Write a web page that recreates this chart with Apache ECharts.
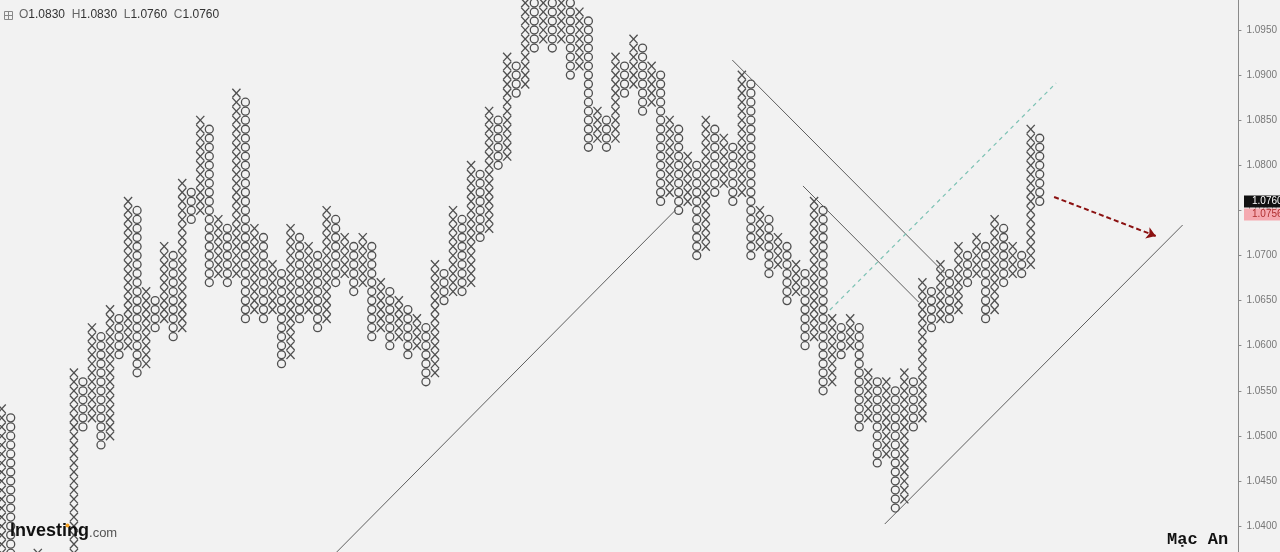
<!DOCTYPE html>
<html><head><meta charset="utf-8">
<script src="https://cdn.jsdelivr.net/npm/echarts@6/dist/echarts.min.js"></script>
<style>html,body{margin:0;padding:0;background:#f2f2f2;overflow:hidden}#c{width:1280px;height:552px;}</style>
</head><body><div id="c"></div>
<script>
// Point & Figure columns (box size 0.0010), even index = X column, odd index = O column
const colType = [];
const colHigh = [
 1.0530,1.0520,1.0350,1.0340,1.0370,1.0360,1.0360,1.0350,1.0570,1.0560,
 1.0620,1.0610,1.0640,1.0630,1.0760,1.0750,1.0660,1.0650,1.0710,1.0700,
 1.0780,1.0770,1.0850,1.0840,1.0740,1.0730,1.0880,1.0870,1.0730,1.0720,
 1.0690,1.0680,1.0730,1.0720,1.0710,1.0700,1.0750,1.0740,1.0720,1.0710,
 1.0720,1.0710,1.0670,1.0660,1.0650,1.0640,1.0630,1.0620,1.0690,1.0680,
 1.0750,1.0740,1.0800,1.0790,1.0860,1.0850,1.0920,1.0910,1.1000,1.0990,
 1.1000,1.0990,1.0990,1.0980,1.0970,1.0960,1.0860,1.0850,1.0920,1.0910,
 1.0940,1.0930,1.0910,1.0900,1.0850,1.0840,1.0810,1.0800,1.0850,1.0840,
 1.0830,1.0820,1.0900,1.0890,1.0750,1.0740,1.0720,1.0710,1.0690,1.0680,
 1.0760,1.0750,1.0630,1.0620,1.0630,1.0620,1.0570,1.0560,1.0560,1.0550,
 1.0570,1.0560,1.0670,1.0660,1.0690,1.0680,1.0710,1.0700,1.0720,1.0710,
 1.0740,1.0730,1.0710,1.0700,1.0840,1.0830
];
const colLow = [
 1.0350,1.0300,1.0310,1.0320,1.0330,1.0320,1.0330,1.0310,1.0320,1.0510,
 1.0520,1.0490,1.0500,1.0590,1.0600,1.0570,1.0580,1.0620,1.0630,1.0610,
 1.0620,1.0740,1.0750,1.0670,1.0680,1.0670,1.0680,1.0630,1.0640,1.0630,
 1.0640,1.0580,1.0590,1.0630,1.0640,1.0620,1.0630,1.0670,1.0680,1.0660,
 1.0670,1.0610,1.0620,1.0600,1.0610,1.0590,1.0600,1.0560,1.0570,1.0650,
 1.0660,1.0660,1.0670,1.0720,1.0730,1.0800,1.0810,1.0880,1.0890,1.0930,
 1.0940,1.0930,1.0940,1.0900,1.0910,1.0820,1.0830,1.0820,1.0830,1.0880,
 1.0890,1.0860,1.0870,1.0760,1.0770,1.0750,1.0760,1.0700,1.0710,1.0770,
 1.0780,1.0760,1.0770,1.0700,1.0710,1.0680,1.0690,1.0650,1.0660,1.0600,
 1.0610,1.0550,1.0560,1.0590,1.0600,1.0510,1.0520,1.0470,1.0480,1.0420,
 1.0430,1.0510,1.0520,1.0620,1.0630,1.0630,1.0640,1.0670,1.0680,1.0630,
 1.0640,1.0670,1.0680,1.0680,1.0690,1.0760
];
for (let i = 0; i < colHigh.length; i++) colType.push(i % 2 === 0 ? 'X' : 'O');

const yTickLabels = [1.0400,1.0450,1.0500,1.0550,1.0600,1.0650,1.0700,1.0750,1.0800,1.0850,1.0900,1.0950];
const yMin = 1.037129, yMax = 1.098326;
const lastClose = 1.0760, bidPrice = 1.0756;
const ohlc = {O: '1.0830', H: '1.0830', L: '1.0760', C: '1.0760'};

// drawn trend lines, in (column index, price)
const trendLines = [
  [[37.12, 1.03713], [74.65, 1.07504]],
  [[80.94, 1.09167], [104.45, 1.06806]],
  [[88.77, 1.07771], [101.58, 1.06484]],
  [[97.83, 1.04023], [130.83, 1.07338]]
];
const dashedLine = [[91.75, 1.06396], [116.81, 1.08912]];
const arrowLine = [[116.59, 1.07649], [127.85, 1.07216]];

const boxes = [];
for (let i = 0; i < colHigh.length; i++) {
  const lo = Math.round(colLow[i] * 10000), hi = Math.round(colHigh[i] * 10000);
  for (let k = lo; k <= hi; k += 10) boxes.push([i, k / 10000, colType[i] === 'X' ? 1 : 0]);
}

const chart = echarts.init(document.getElementById('c'));
const axisFont = 'Liberation Sans, Arial, sans-serif';
const glyph = '#4f4f4f';
chart.setOption({
  backgroundColor: '#f2f2f2',
  animation: false,
  grid: {left: 0, right: 37, top: 0, bottom: 0, containLabel: false},
  xAxis: {type: 'value', min: -0.1876, max: 137.01, show: false},
  yAxis: {
    type: 'value', position: 'right', min: yMin, max: yMax,
    axisLine: {show: true, onZero: false, lineStyle: {color: '#8a8a8a', width: 1}},
    axisTick: {show: true, inside: false, length: 3, customValues: yTickLabels, lineStyle: {color: '#8a8a8a'}},
    axisLabel: {margin: 8, color: '#777', fontSize: 10, fontFamily: axisFont, customValues: yTickLabels,
      showMinLabel: true, showMaxLabel: true,
      formatter: v => Number(v).toFixed(4)},
    splitLine: {show: false}
  },
  series: [
    {
      type: 'custom', clip: true,
      data: boxes,
      encode: {x: 0, y: 1},
      renderItem: function (params, api) {
        const c = api.coord([api.value(0), api.value(1)]);
        const s = api.size([1, 0.001]);
        const hw = s[0] * 0.45, hh = s[1] * 0.48;
        const st = {stroke: glyph, lineWidth: 1.3, fill: null};
        if (api.value(2) === 1) {
          return {type: 'group', children: [
            {type: 'line', shape: {x1: c[0] - hw, y1: c[1] - hh, x2: c[0] + hw, y2: c[1] + hh}, style: st},
            {type: 'line', shape: {x1: c[0] - hw, y1: c[1] + hh, x2: c[0] + hw, y2: c[1] - hh}, style: st}
          ]};
        }
        return {type: 'circle', shape: {cx: c[0], cy: c[1], r: Math.min(hw, hh) * 0.98},
          style: {stroke: glyph, lineWidth: 1.3, fill: 'none'}};
      },
      z: 2
    },
    {
      type: 'lines', coordinateSystem: 'cartesian2d', polyline: false, silent: true,
      lineStyle: {color: '#5f5f5f', width: 1, opacity: 1},
      data: trendLines.map(l => ({coords: l})), z: 3
    },
    {
      type: 'lines', coordinateSystem: 'cartesian2d', silent: true,
      lineStyle: {color: '#7cc2b4', width: 1.2, type: [4, 4], opacity: 1},
      data: [{coords: dashedLine}], z: 3
    },
    {
      type: 'lines', coordinateSystem: 'cartesian2d', silent: true,
      symbol: ['none', 'arrow'], symbolSize: 9,
      lineStyle: {color: '#8b1111', width: 2, type: [5, 3], opacity: 1},
      data: [{coords: arrowLine}], z: 3
    }
  ]
});

const yc = chart.convertToPixel({yAxisIndex: 0}, lastClose);
chart.setOption({
  graphic: [
    {type: 'rect', left: 1244, top: yc - 6, shape: {width: 36, height: 12}, style: {fill: '#111'}, z: 10},
    {type: 'text', left: 1252, top: yc - 5, style: {text: lastClose.toFixed(4), fill: '#fff', font: '10px ' + axisFont}, z: 11},
    {type: 'rect', left: 1244, top: yc + 7, shape: {width: 36, height: 12}, style: {fill: '#f5a9b0'}, z: 10},
    {type: 'text', left: 1252, top: yc + 8, style: {text: bidPrice.toFixed(4), fill: '#b03030', font: '10px ' + axisFont}, z: 11},
    // header icon
    {type: 'rect', shape: {x: 4.5, y: 11.5, width: 8, height: 8}, style: {fill: 'none', stroke: '#888', lineWidth: 1}, z: 10},
    {type: 'line', shape: {x1: 8.5, y1: 11.5, x2: 8.5, y2: 19.5}, style: {stroke: '#888', lineWidth: 1}, z: 10},
    {type: 'line', shape: {x1: 4.5, y1: 15.5, x2: 12.5, y2: 15.5}, style: {stroke: '#888', lineWidth: 1}, z: 10},
    {type: 'text', left: 19, top: 9, style: {
      rich: {k: {fill: '#666', font: '12px ' + axisFont}, v: {fill: '#333', font: '12px ' + axisFont}},
      text: '{k|O}{v|' + ohlc.O + '}  {k|H}{v|' + ohlc.H + '}  {k|L}{v|' + ohlc.L + '}  {k|C}{v|' + ohlc.C + '}'
    }, z: 10},
    // logo
    {type: 'text', left: 10, top: 522, style: {
      rich: {a: {fill: '#111', font: 'bold 18px ' + axisFont}, b: {fill: '#555', font: '13px ' + axisFont, padding: [4, 0, 0, 0]}},
      text: '{a|Investing}{b|.com}'
    }, z: 10},
    {type: 'circle', shape: {cx: 67.5, cy: 525.5, r: 2}, style: {fill: '#f4a020'}, z: 11},
    // signature
    {type: 'text', left: 1167, top: 531, style: {text: 'Mạc An', fill: '#111', font: 'bold 17px Liberation Mono, DejaVu Sans Mono, monospace'}, z: 10}
  ]
});
</script></body></html>
